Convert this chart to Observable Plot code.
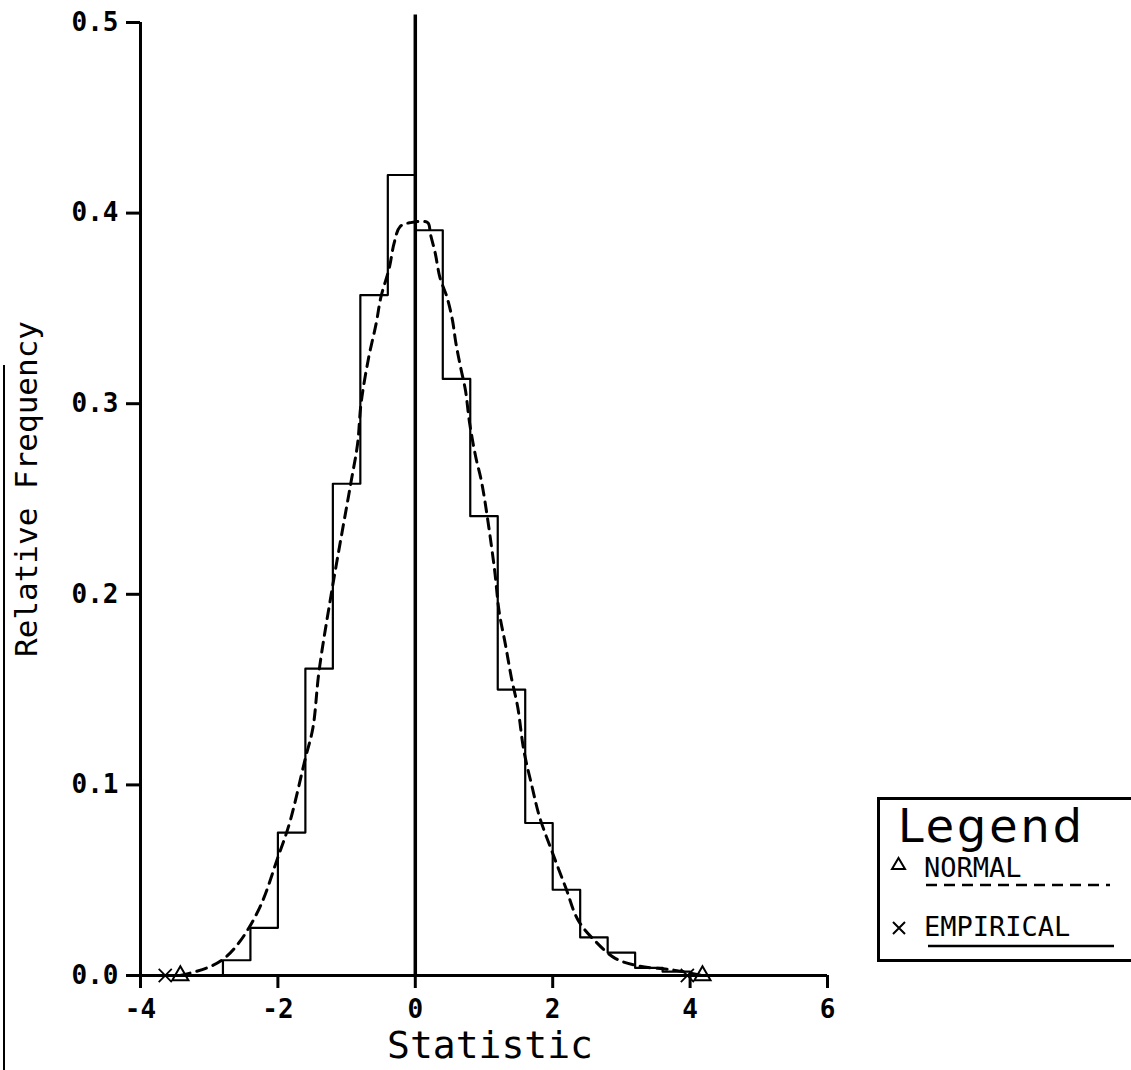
<!DOCTYPE html>
<html>
<head>
<meta charset="utf-8">
<script src="https://cdn.jsdelivr.net/npm/d3@7"></script>
<script src="https://cdn.jsdelivr.net/npm/@observablehq/plot@0.6"></script>
<style>
  html, body { margin: 0; padding: 0; background: #fff; }
  #wrap { position: relative; width: 1131px; height: 1070px; overflow: hidden; background: #fff; }
  #edge { position: absolute; left: 3px; top: 365px; width: 2px; height: 710px; background: #000; }
  #legend { position: absolute; left: 877px; top: 797px; width: 270px; height: 165px;
            border: 3px solid #000; border-right: none; box-sizing: border-box; background: #fff; }
  #legend .title { position: absolute; left: 18px; top: 4px; font-family: "DejaVu Sans", sans-serif;
                   font-size: 46px; letter-spacing: 3px; line-height: 44px; }
  #legend .item { position: absolute; left: 44px; font-family: "DejaVu Sans Mono", monospace;
                  font-size: 27px; line-height: 28px; }
  #legend svg { position: absolute; left: 0; top: 0; }
</style>
</head>
<body>
<div id="wrap">
  <div id="chart"></div>
  <div id="edge"></div>
  <div id="legend">
    <div class="title">Legend</div>
    <div class="item" style="top:54px">NORMAL</div>
    <div class="item" style="top:113px">EMPIRICAL</div>
    <svg width="270" height="165">
      <path d="M12,69 L18.5,58 L25,69 Z" fill="none" stroke="#000" stroke-width="2"/>
      <path d="M13,122 L25,134 M25,122 L13,134" stroke="#000" stroke-width="2"/>
      <line x1="46" y1="85" x2="230" y2="85" stroke="#000" stroke-width="2.5" stroke-dasharray="11,7"/>
      <line x1="48" y1="146" x2="234" y2="146" stroke="#000" stroke-width="2.5"/>
    </svg>
  </div>
</div>
<script>
// ---- data ----
const binStart = [-2.8, -2.4, -2.0, -1.6, -1.2, -0.8, -0.4, 0.0, 0.4, 0.8, 1.2, 1.6, 2.0, 2.4, 2.8, 3.2, 3.6];
const binWidth = 0.4;
const relFreq  = [0.008, 0.025, 0.075, 0.161, 0.258, 0.357, 0.420, 0.391, 0.313, 0.241, 0.150, 0.080, 0.045, 0.020, 0.012, 0.004, 0.002];

const normalX = [-3.42, -3.03, -2.78, -2.55, -2.26, -2.0, -1.83, -1.6, -1.49, -1.4, -1.2, -0.94, -0.84, -0.79, -0.68, -0.57, -0.5, -0.38, -0.31, -0.22, -0.07, 0.18, 0.22, 0.29, 0.36, 0.46, 0.54, 0.59, 0.66, 0.73, 0.79, 0.88, 0.97, 1.15, 1.22, 1.31, 1.40, 1.49, 1.58, 1.70, 1.81, 1.98, 2.19, 2.37, 2.62, 2.91, 3.25, 3.73, 4.18];
const normalY = [0.000, 0.004, 0.009, 0.018, 0.036, 0.062, 0.080, 0.114, 0.130, 0.160, 0.205, 0.258, 0.279, 0.300, 0.324, 0.342, 0.356, 0.371, 0.384, 0.393, 0.395, 0.395, 0.389, 0.379, 0.366, 0.356, 0.344, 0.332, 0.319, 0.307, 0.290, 0.272, 0.258, 0.214, 0.191, 0.174, 0.156, 0.141, 0.118, 0.099, 0.083, 0.066, 0.046, 0.029, 0.018, 0.009, 0.005, 0.003, 0.000];

const empiricalEnds = [-3.64, 3.96];
const normalEnds = [-3.42, 4.18];

const xTicks = [-4, -2, 0, 2, 4, 6];
const yTicks = [0.0, 0.1, 0.2, 0.3, 0.4, 0.5];
const xLabel = "Statistic";
const yLabel = "Relative Frequency";

// ---- build step outline from the bins ----
const hist = [{x: binStart[0], y: 0}];
binStart.forEach((s, i) => {
  hist.push({x: s, y: relFreq[i]});
  hist.push({x: s + binWidth, y: relFreq[i]});
});
hist.push({x: binStart[binStart.length - 1] + binWidth, y: 0});

const normal = normalX.map((x, i) => ({x, y: normalY[i]}));

const chart = Plot.plot({
  width: 1131,
  height: 1070,
  marginLeft: 140,
  marginRight: 304,
  marginTop: 22,
  marginBottom: 95,
  style: {background: "white", color: "black", fontFamily: "DejaVu Sans Mono, monospace"},
  x: {domain: [-4, 6]},
  y: {domain: [0, 0.5]},
  marks: [
    Plot.line(hist, {x: "x", y: "y", stroke: "black", strokeWidth: 2.2}),
    Plot.line(normal, {x: "x", y: "y", stroke: "black", strokeWidth: 3, strokeDasharray: "10,7", curve: "catmull-rom"}),
    Plot.ruleX([0], {y1: 0, y2: 0.504, stroke: "black", strokeWidth: 3.5}),
    Plot.ruleX([-4], {y1: 0, y2: 0.5, stroke: "black", strokeWidth: 3}),
    Plot.ruleY([0], {x1: -4, x2: 6, stroke: "black", strokeWidth: 3}),
    Plot.axisX({ticks: xTicks, tickSize: 13, tickPadding: 11, strokeWidth: 3, tickFormat: d => String(d),
                fontSize: 26, fontWeight: "bold", label: null}),
    Plot.axisY({ticks: yTicks, tickSize: 14, tickPadding: 8, strokeWidth: 3, tickFormat: d => d.toFixed(1),
                fontSize: 26, fontWeight: "bold", label: null}),
    Plot.dot(empiricalEnds.map(x => ({x, y: 0})), {x: "x", y: "y", symbol: "times", r: 6, stroke: "black", strokeWidth: 1.8}),
    Plot.dot(normalEnds.map(x => ({x, y: 0})), {x: "x", y: "y", symbol: "triangle", r: 6, fill: "none", stroke: "black", strokeWidth: 2}),
    Plot.text([xLabel], {frameAnchor: "bottom", dx: 6, dy: 70, fontSize: 38, fill: "black", lineAnchor: "middle"}),
    Plot.text([yLabel], {frameAnchor: "left", textAnchor: "middle", dx: -113, dy: -10, rotate: -90, fontSize: 31, fill: "black"})
  ]
});
document.getElementById("chart").appendChild(chart);
</script>
</body>
</html>
